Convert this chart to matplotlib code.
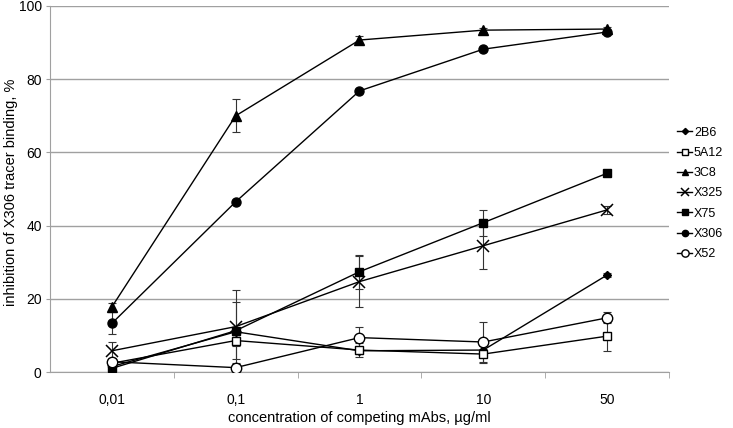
import numpy as np
import matplotlib
matplotlib.use("Agg")
import matplotlib.pyplot as plt

# categories on the x axis (concentration, ug/ml)
concentrations = ["0,01", "0,1", "1", "10", "50"]

# inhibition values, %
v_2b6 = [1.5, 11.0, 5.8, 6.0, 26.5]
v_5a12 = [2.4, 8.6, 6.0, 4.9, 9.8]
v_3c8 = [17.8, 70.0, 90.7, 93.4, 93.7]
v_x325 = [5.8, 12.4, 24.7, 34.5, 44.3]
v_x75 = [1.0, 11.3, 27.4, 40.8, 54.3]
v_x306 = [13.3, 46.5, 76.8, 88.2, 92.9]
v_x52 = [2.8, 1.2, 9.4, 8.2, 14.8]

# error bars (+/-)
e_2b6 = [0.5, 1.0, 1.0, 1.0, 0.5]
e_5a12 = [1.0, 1.5, 2.0, 2.5, 4.0]
e_3c8 = [1.0, 4.5, 1.2, 0.5, 0.5]
e_x325 = [2.5, 10.0, 7.0, 6.3, 1.0]
e_x75 = [0.5, 7.7, 4.7, 3.6, 0.5]
e_x306 = [3.0, 0.5, 0.5, 0.5, 0.5]
e_x52 = [1.0, 1.0, 3.0, 5.4, 1.5]

series = [
    ("2B6", v_2b6, e_2b6, dict(marker="D", ms=4.5, mfc="black")),
    ("5A12", v_5a12, e_5a12, dict(marker="s", ms=6, mfc="white")),
    ("3C8", v_3c8, e_3c8, dict(marker="^", ms=7, mfc="black")),
    ("X325", v_x325, e_x325, dict(marker="x", ms=8, mew=1.1, mfc="black")),
    ("X75", v_x75, e_x75, dict(marker="s", ms=6, mfc="black")),
    ("X306", v_x306, e_x306, dict(marker="o", ms=6.5, mfc="black")),
    ("X52", v_x52, e_x52, dict(marker="o", ms=7.5, mfc="white")),
]

plt.rcParams["font.family"] = ["Liberation Sans", "DejaVu Sans"]

fig = plt.figure(figsize=(7.33, 4.28), dpi=100)
ax = fig.add_axes([0.0682, 0.1308, 0.8445, 0.8552])

x = np.arange(len(concentrations))
grid_col = "#a0a0a0"

for name, vals, errs, style in series:
    ax.errorbar(x, vals, yerr=errs, fmt="none", ecolor="#333333",
                elinewidth=0.8, capsize=3, capthick=0.8, zorder=2)
    ax.plot(x, vals, color="black", lw=1, mec="black", label=name,
            zorder=3, **style)

ax.set_xlim(-0.5, len(concentrations) - 0.5)
ax.set_ylim(0, 100)
ax.set_yticks(np.arange(0, 101, 20))
ax.set_xticks(x)
ax.set_xticklabels(concentrations)
ax.set_xticks(np.arange(0.5, len(concentrations), 1), minor=True)
ax.tick_params(axis="x", which="major", length=0, pad=15, labelsize=10)
ax.tick_params(axis="x", which="minor", length=4, color=grid_col, direction="out")
ax.tick_params(axis="y", length=3, color=grid_col, labelsize=10, pad=3)

ax.grid(axis="y", color=grid_col, lw=1)
ax.set_axisbelow(True)
for s in ["top", "right"]:
    ax.spines[s].set_visible(False)
for s in ["left", "bottom"]:
    ax.spines[s].set_color(grid_col)

ax.set_xlabel("concentration of competing mAbs, \u00b5g/ml", fontsize=10.5, labelpad=3)
ax.set_ylabel("inhibition of X306 tracer binding, %", fontsize=10.5)
ax.yaxis.set_label_coords(-0.052, 0.49)

ax.legend(loc="center left", bbox_to_anchor=(1.005, 0.488), frameon=False,
          fontsize=9, markerscale=0.7, handlelength=1.2, handletextpad=0.15,
          labelspacing=0.66, borderaxespad=0)

fig.savefig("out.png", dpi=100)
